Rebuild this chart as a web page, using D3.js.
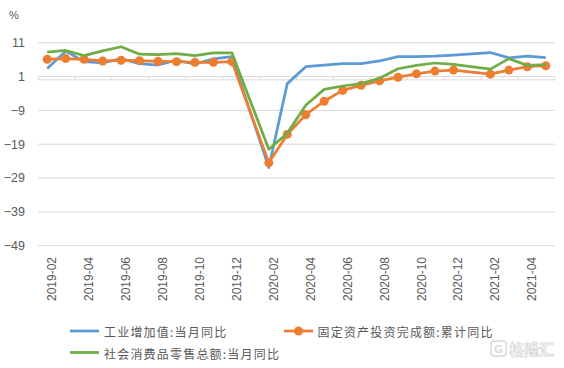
<!DOCTYPE html>
<html><head><meta charset="utf-8">
<script src="https://cdn.jsdelivr.net/npm/d3@7"></script>
<style>
html,body{margin:0;padding:0;background:#fff;}
svg{display:block;}
</style></head>
<body>
<svg id="chart" width="564" height="368"></svg>
<script>
const months = ["2019-02","2019-03","2019-04","2019-05","2019-06","2019-07","2019-08","2019-09","2019-10","2019-11","2019-12",
"2020-01","2020-02","2020-03","2020-04","2020-05","2020-06","2020-07","2020-08","2020-09","2020-10","2020-11","2020-12",
"2021-01","2021-02","2021-03","2021-04","2021-05"];
const industry = [3.4,8.5,5.4,5.0,6.3,4.8,4.4,5.8,4.7,6.2,6.9,null,-25.9,-1.1,3.9,4.4,4.8,4.8,5.6,6.9,6.9,7.0,7.3,null,8.1,6.5,7.0,6.6];
const fai = [6.1,6.3,6.1,5.6,5.8,5.7,5.5,5.4,5.2,5.2,5.4,null,-24.5,-16.1,-10.3,-6.3,-3.1,-1.6,-0.3,0.8,1.8,2.6,2.9,null,1.7,2.9,3.9,4.2];
const retail = [8.2,8.7,7.2,8.6,9.8,7.6,7.5,7.8,7.2,8.0,8.0,null,-20.5,-15.8,-7.5,-2.8,-1.8,-1.1,0.5,3.3,4.3,5.0,4.6,null,3.2,6.3,4.3,4.5];
const yTicks = [11,1,-9,-19,-29,-39,-49];
const seriesNames = ["工业增加值:当月同比","固定资产投资完成额:累计同比","社会消费品零售总额:当月同比"];
const colors = ["#5b9bd5","#ed7d31","#70ad47"];

const svg = d3.select("#chart");
const x = d3.scalePoint().domain(months).range([38,555]).padding(0.5);
const step = x.step();
const y = d3.scaleLinear().domain([-49,11]).range([245.7,42.7]);

// gridlines
svg.append("g").selectAll("line").data(yTicks).join("line")
  .attr("x1",38).attr("x2",555)
  .attr("y1",d=>y(d)).attr("y2",d=>y(d))
  .attr("stroke","#d9d9d9").attr("stroke-width",1);

// y labels
svg.append("g").selectAll("text").data(yTicks).join("text")
  .attr("x",25).attr("y",d=>y(d)).attr("dy","0.35em")
  .attr("text-anchor","end")
  .attr("font-family","Liberation Sans, Arial, sans-serif").attr("font-size",12.5)
  .attr("fill","#595959")
  .text(d=>d3.format("d")(d));
svg.append("text").attr("x",14).attr("y",19).attr("text-anchor","middle")
  .attr("font-family","Liberation Sans, Arial, sans-serif").attr("font-size",11)
  .attr("fill","#595959").text("%");

// x axis line at 0
const y0 = y(0);
svg.append("line").attr("x1",38).attr("x2",555).attr("y1",y0).attr("y2",y0)
  .attr("stroke","#d9d9d9").attr("stroke-width",1);
const tickIdx = months.map((m,i)=>i).filter(i=>i%2===0);
svg.append("g").selectAll("line").data(tickIdx).join("line")
  .attr("x1",i=>x(months[i])-step/2).attr("x2",i=>x(months[i])-step/2)
  .attr("y1",y0).attr("y2",y0-3.5)
  .attr("stroke","#d9d9d9");
svg.append("line").attr("x1",555).attr("x2",555).attr("y1",y0).attr("y2",y0-3.5).attr("stroke","#d9d9d9");

// x labels
svg.append("g").selectAll("text").data(tickIdx).join("text")
  .attr("transform",i=>`translate(${x(months[i])+9},257) rotate(-90)`)
  .attr("text-anchor","end")
  .attr("font-family","Liberation Sans, Arial, sans-serif").attr("font-size",12)
  .attr("fill","#595959")
  .text(i=>months[i]);

// lines
const allSeries = [industry, fai, retail];
const line = d3.line().x(d=>x(d.m)).y(d=>y(d.v));
allSeries.forEach((s,k)=>{
  const pts = s.map((v,i)=>({m:months[i],v})).filter(d=>d.v!==null);
  svg.append("path").datum(pts).attr("d",line)
    .attr("fill","none").attr("stroke",colors[k]).attr("stroke-width",2.75)
    .attr("stroke-linejoin","round");
  if(k===1){
    svg.append("g").selectAll("circle").data(pts).join("circle")
      .attr("cx",d=>x(d.m)).attr("cy",d=>y(d.v)).attr("r",4.5)
      .attr("fill",colors[1]);
  }
});

// legend
const lg = svg.append("g").attr("font-family","Noto Sans CJK SC, sans-serif").attr("font-size",12)
  .attr("fill","#595959").attr("letter-spacing","1.2px");
const legendPos = [[70,331],[284,331],[70,352.5]];
legendPos.forEach((p,k)=>{
  lg.append("line").attr("x1",p[0]).attr("x2",p[0]+29).attr("y1",p[1]).attr("y2",p[1])
    .attr("stroke",colors[k]).attr("stroke-width",2.75);
  if(k===1) lg.append("circle").attr("cx",p[0]+14.5).attr("cy",p[1]).attr("r",4.5).attr("fill",colors[1]);
  lg.append("text").attr("x",p[0]+(k===1?33.5:34)).attr("y",p[1]+2).attr("dy","0.35em").text(seriesNames[k]);
});

// watermark
const wm = svg.append("g").attr("opacity",0.9);
wm.append("rect").attr("x",491).attr("y",341).attr("width",15).attr("height",15).attr("rx",3)
  .attr("fill","none").attr("stroke","#d5d5d5").attr("stroke-width",1.5);
wm.append("text").attr("x",498.5).attr("y",352.5).attr("text-anchor","middle")
  .attr("font-family","Liberation Sans, sans-serif").attr("font-size",11).attr("font-weight","bold")
  .attr("fill","#d5d5d5").text("G");
wm.append("text").attr("x",509).attr("y",355).attr("font-family","Noto Sans CJK SC, sans-serif")
  .attr("font-size",15).attr("font-weight","bold").attr("fill","none").attr("stroke","#d5d5d5").attr("stroke-width",0.8)
  .text("格隆汇");
</script>
</body></html>
